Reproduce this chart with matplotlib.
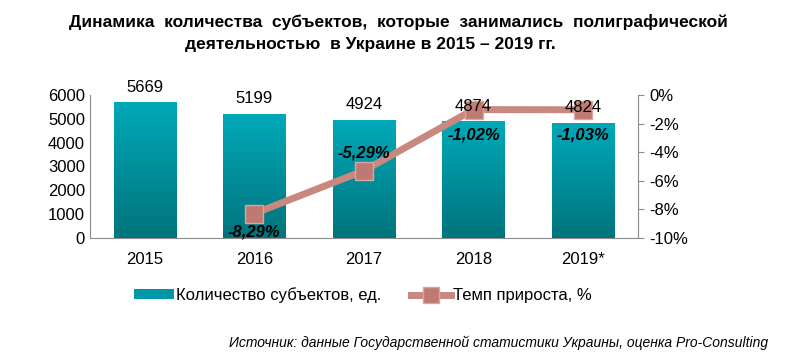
import numpy as np
import matplotlib.pyplot as plt
from matplotlib.lines import Line2D
from matplotlib.patches import Patch
from matplotlib.colors import LinearSegmentedColormap

plt.rcParams['font.family'] = ['Liberation Sans', 'DejaVu Sans']

years = ['2015', '2016', '2017', '2018', '2019*']
counts = [5669, 5199, 4924, 4874, 4824]
growth_years = [1, 2, 3, 4]
growth = [-8.29, -5.29, -1.02, -1.03]
growth_labels = ['-8,29%', '-5,29%', '-1,02%', '-1,03%']

fig = plt.figure(figsize=(7.85, 3.6), dpi=100)
ax = fig.add_axes([0.1146, 0.339, 0.698, 0.397])
x = np.arange(len(years))
w = 0.57

# bars with a vertical gradient
grad = np.linspace(0, 1, 256).reshape(-1, 1)
cmap = LinearSegmentedColormap.from_list('teal', ['#00747C', '#00A9B9'])
bars = ax.bar(x, counts, width=w, color='none', edgecolor='none')
for b in bars:
    x0 = b.get_x()
    ax.imshow(grad, extent=[x0, x0 + b.get_width(), 0, b.get_height()],
              origin='lower', cmap=cmap, aspect='auto', zorder=1)

ax.set_xlim(-0.5, 4.5)
ax.set_ylim(0, 6000)
ax.set_yticks(np.arange(0, 6001, 1000))
ax.set_xticks(x)
ax.set_xticklabels(years)
ax.tick_params(axis='both', labelsize=12, length=0, colors='black')
ax.tick_params(axis='x', pad=10)
for s in ['top', 'right']:
    ax.spines[s].set_visible(False)
ax.spines['left'].set_color('#8C8C8C')
ax.spines['bottom'].set_color('#8C8C8C')

ax2 = ax.twinx()
ax2.plot(growth_years, growth, color='#C8877F', lw=5, marker='s', markersize=13,
         markerfacecolor='#BE7A72', markeredgecolor='#D9A59E', zorder=3)
ax2.set_ylim(-10, 0)
ax2.set_yticks(np.arange(-10, 1, 2))
ax2.set_yticklabels([f'{t}%' for t in range(-10, 1, 2)])
ax2.tick_params(axis='y', labelsize=12, length=4, color='#8C8C8C', pad=4)
for s in ['top', 'left', 'bottom']:
    ax2.spines[s].set_visible(False)
ax2.spines['right'].set_color('#8C8C8C')
ax2.set_xlim(-0.5, 4.5)

# count labels drawn on the top axes so they sit over the line
for i, v in enumerate(counts):
    ax2.annotate(str(v), (x[i], v), xycoords=ax.transData, xytext=(0, 6),
                 textcoords='offset points', ha='center', va='bottom',
                 fontsize=12, zorder=5)

offsets = [-13, 13, -18, -18]
for gx, g, lab, off in zip(growth_years, growth, growth_labels, offsets):
    ax2.annotate(lab, (gx, g), xytext=(0, off), textcoords='offset points',
                 ha='center', va='center', fontsize=12, fontweight='bold',
                 fontstyle='italic', zorder=4)

fig.text(0.508, 0.94, 'Динамика  количества  субъектов,  которые  занимались  полиграфической',
         ha='center', va='center', fontsize=12.5, fontweight='bold')
fig.text(0.472, 0.875, 'деятельностью  в Украине в 2015 – 2019 гг.',
         ha='center', va='center', fontsize=12.5, fontweight='bold')

handles = [Patch(facecolor='#0097A7'),
           Line2D([0], [0], color='#C8877F', lw=5, marker='s', markersize=11,
                  markerfacecolor='#BE7A72', markeredgecolor='#D9A59E')]
fig.legend(handles, ['Количество субъектов, ед.', 'Темп прироста, %'],
           loc='center', bbox_to_anchor=(0.462, 0.18), ncol=2, frameon=False,
           fontsize=12, handlelength=2.4, handleheight=0.5, handletextpad=0.1,
           columnspacing=1.8)

fig.text(0.978, 0.047,
         'Источник: данные Государственной статистики Украины, оценка Pro-Consulting',
         ha='right', va='center', fontsize=10, fontstyle='italic')

fig.savefig('out.png', dpi=100)
